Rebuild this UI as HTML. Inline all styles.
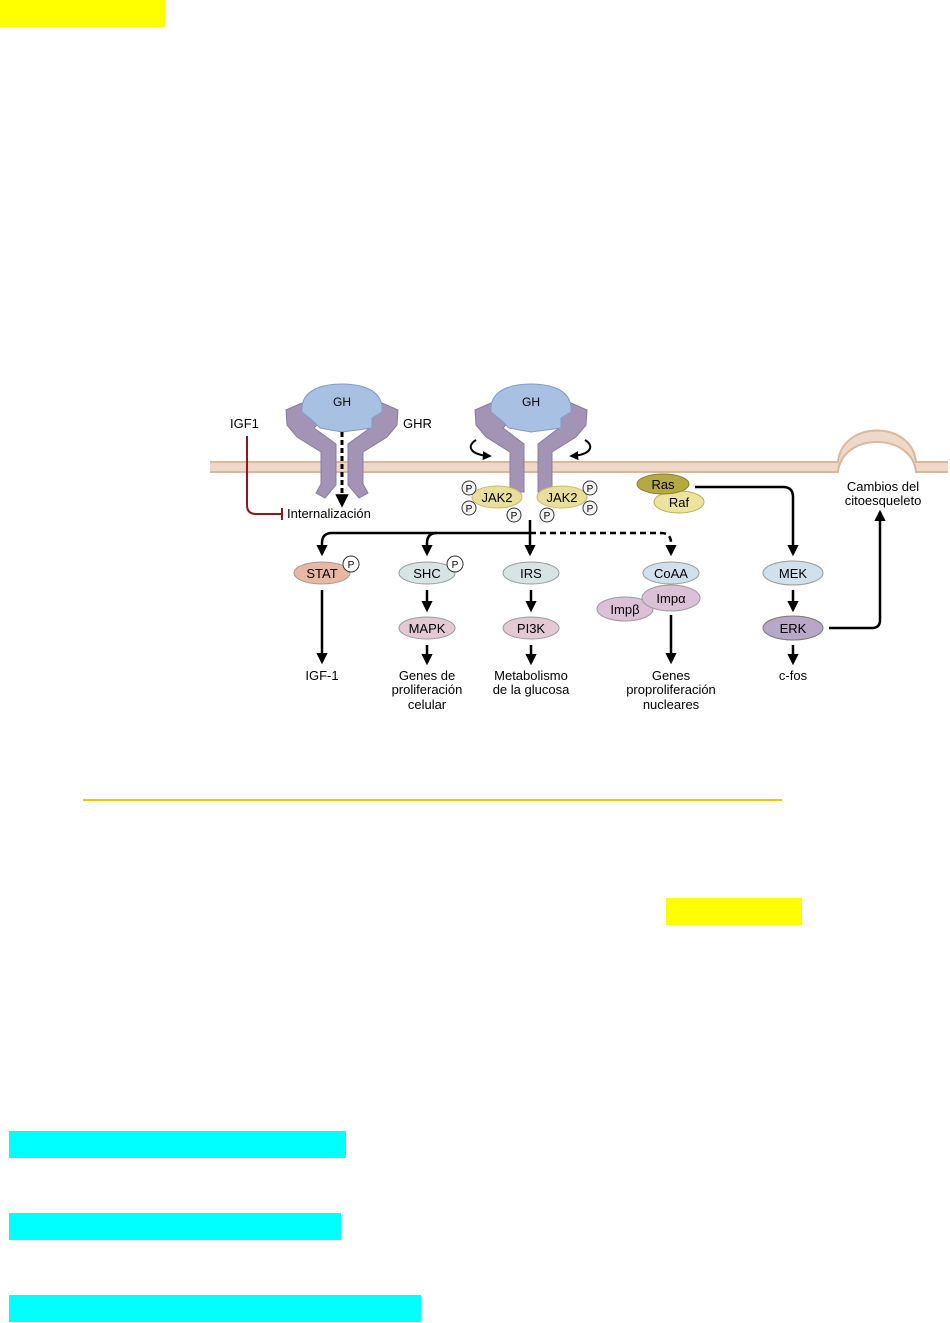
<!DOCTYPE html>
<html><head><meta charset="utf-8"><style>
html,body{margin:0;padding:0;background:#fff;}
body{width:950px;height:1323px;position:relative;overflow:hidden;font-family:"Liberation Sans",sans-serif;}
.b{position:absolute;}
svg text{font-family:"Liberation Sans",sans-serif;}
</style></head><body>
<div class="b" style="left:0;top:0;width:165px;height:27px;background:#ffff00"></div>
<div class="b" style="left:83px;top:799px;width:699px;height:2px;background:#f5c400"></div>
<div class="b" style="left:666px;top:898px;width:136px;height:27px;background:#ffff00"></div>
<div class="b" style="left:9px;top:1131px;width:337px;height:27px;background:#00ffff"></div>
<div class="b" style="left:9px;top:1213px;width:332px;height:27px;background:#00ffff"></div>
<div class="b" style="left:9px;top:1295px;width:412px;height:27px;background:#00ffff"></div>
<svg class="b" style="left:0;top:0" width="950" height="1323" viewBox="0 0 950 1323">
<defs>
<marker id="ah" viewBox="0 0 10 10" refX="8" refY="5" markerWidth="4.5" markerHeight="4.5" orient="auto"><path d="M0,0L10,5L0,10z" fill="#000"/></marker>
<g id="recL"><path d="M286,410 L302,403 L320,422 L314,428 L336,444 L336,485 L325,498 L316,493 L321,484 L321,452 L297,437 L287,425Z" fill="#a394b6" stroke="#8a7aa0" stroke-width="1"/></g>
<g id="recR"><path d="M286,410 L302,403 L320,422 L314,428 L335,444 L335,492 L321,492 L321,452 L297,437 L287,425Z" fill="#a394b6" stroke="#8a7aa0" stroke-width="1"/></g>
</defs>
<path d="M210,462 L838,462 C842,420 912,420 916,462 L948,462 L948,472 L916,472 C912,432 842,432 838,472 L210,472Z" fill="#eed9c8"/>
<path d="M210,462 L838,462 C842,420 912,420 916,462 L948,462" fill="none" stroke="#d9b8a0" stroke-width="2"/>
<path d="M210,472 L838,472 C842,432 912,432 916,472 L948,472" fill="none" stroke="#d9b8a0" stroke-width="2"/>
<use href="#recL"/><use href="#recL" transform="translate(684,0) scale(-1,1)"/>
<path d="M302,412 C300,390 322,384 342,384 C362,384 384,390 382,412 L372,418 L372,428 L342,432 L320,428 L312,420Z" fill="#a8c0e2" stroke="#7f9cc8"/>
<text x="342" y="406" font-size="12" text-anchor="middle">GH</text>
<line x1="342" y1="432" x2="342" y2="505" stroke="#000" stroke-width="3" stroke-dasharray="5,3" marker-end="url(#ah)"/>
<g transform="translate(189,0)"><use href="#recR"/><use href="#recR" transform="translate(684,0) scale(-1,1)"/>
<path d="M302,412 C300,390 322,384 342,384 C362,384 384,390 382,412 L372,418 L372,428 L342,432 L320,428 L312,420Z" fill="#a8c0e2" stroke="#7f9cc8"/>
<text x="342" y="406" font-size="12" text-anchor="middle">GH</text></g>
<path d="M476,440 C466,446 470,455 490,456" fill="none" stroke="#000" stroke-width="2" marker-end="url(#ah)"/>
<path d="M585,440 C595,446 591,455 571,456" fill="none" stroke="#000" stroke-width="2" marker-end="url(#ah)"/>
<text x="230" y="428" font-size="13">IGF1</text>
<text x="403" y="428" font-size="13">GHR</text>
<path d="M247,436 L247,505 Q247,514 256,514 L281,514" fill="none" stroke="#8b1a1a" stroke-width="2"/>
<line x1="282" y1="508" x2="282" y2="520" stroke="#8b1a1a" stroke-width="2"/>
<text x="287" y="518" font-size="13">Internalización</text>
<ellipse cx="497" cy="497" rx="25" ry="11" fill="#e8df9a" stroke="#c8bd6a"/>
<ellipse cx="562" cy="497" rx="25" ry="11" fill="#e8df9a" stroke="#c8bd6a"/>
<text x="497" y="502" font-size="13" text-anchor="middle">JAK2</text>
<text x="562" y="502" font-size="13" text-anchor="middle">JAK2</text>
<g font-size="10" text-anchor="middle">
<circle cx="469" cy="488" r="7" fill="#f4f4f4" stroke="#333"/><text x="469" y="492">P</text>
<circle cx="469" cy="508" r="7" fill="#f4f4f4" stroke="#333"/><text x="469" y="512">P</text>
<circle cx="514" cy="515" r="7" fill="#f4f4f4" stroke="#333"/><text x="514" y="519">P</text>
<circle cx="590" cy="488" r="7" fill="#f4f4f4" stroke="#333"/><text x="590" y="492">P</text>
<circle cx="590" cy="508" r="7" fill="#f4f4f4" stroke="#333"/><text x="590" y="512">P</text>
<circle cx="547" cy="515" r="7" fill="#f4f4f4" stroke="#333"/><text x="547" y="519">P</text>
</g>
<g fill="none" stroke="#000" stroke-width="2.5">
<path d="M530,533 L332,533 Q322,533 322,543 L322,554" marker-end="url(#ah)"/>
<path d="M437,533 Q427,533 427,543 L427,554" marker-end="url(#ah)"/>
<path d="M530,520 L530,554" marker-end="url(#ah)"/>
<path d="M530,533 L661,533 Q671,533 671,543 L671,554" stroke-dasharray="6,4" marker-end="url(#ah)"/>
<path d="M695,487 L783,487 Q793,487 793,497 L793,554" marker-end="url(#ah)"/>
<path d="M322,590 L322,662" marker-end="url(#ah)"/>
<path d="M427,590 L427,610" marker-end="url(#ah)"/>
<path d="M531,590 L531,610" marker-end="url(#ah)"/>
<path d="M427,645 L427,663" marker-end="url(#ah)"/>
<path d="M531,645 L531,663" marker-end="url(#ah)"/>
<path d="M671,615 L671,662" marker-end="url(#ah)"/>
<path d="M793,590 L793,610" marker-end="url(#ah)"/>
<path d="M793,645 L793,663" marker-end="url(#ah)"/>
<path d="M829,628 L872,628 Q880,628 880,620 L880,512" marker-end="url(#ah)"/>
</g>
<ellipse cx="679" cy="502" rx="25" ry="11" fill="#ece49c" stroke="#b8ad55"/>
<ellipse cx="663" cy="484" rx="26" ry="10" fill="#b6a842" stroke="#8a7e2a"/>
<text x="663" y="489" font-size="13" text-anchor="middle">Ras</text>
<text x="679" y="507" font-size="13" text-anchor="middle">Raf</text>
<g font-size="13" text-anchor="middle">
<ellipse cx="322" cy="573" rx="28" ry="11" fill="#e8b8a4" stroke="#999"/><text x="322" y="578">STAT</text>
<ellipse cx="427" cy="573" rx="28" ry="11" fill="#d6e4e4" stroke="#999"/><text x="427" y="578">SHC</text>
<ellipse cx="531" cy="573" rx="28" ry="11" fill="#d6e4e4" stroke="#999"/><text x="531" y="578">IRS</text>
<ellipse cx="671" cy="573" rx="28" ry="11" fill="#d0e0ec" stroke="#999"/><text x="671" y="578">CoAA</text>
<ellipse cx="793" cy="573" rx="30" ry="12" fill="#d0e0ec" stroke="#999"/><text x="793" y="578">MEK</text>
<ellipse cx="427" cy="628" rx="28" ry="11" fill="#e4c8d4" stroke="#999"/><text x="427" y="633">MAPK</text>
<ellipse cx="531" cy="628" rx="28" ry="11" fill="#e4c8d4" stroke="#999"/><text x="531" y="633">PI3K</text>
<ellipse cx="793" cy="628" rx="30" ry="12" fill="#b8a8c8" stroke="#777"/><text x="793" y="633">ERK</text>
<ellipse cx="625" cy="609" rx="28" ry="12" fill="#dcc0d8" stroke="#999"/><text x="625" y="614">Impβ</text>
<ellipse cx="671" cy="598" rx="29" ry="13" fill="#dcc0d8" stroke="#999"/><text x="671" y="603">Impα</text>
</g>
<g font-size="10" text-anchor="middle">
<circle cx="351" cy="564" r="8" fill="#fff" stroke="#333"/><text x="351" y="568">P</text>
<circle cx="455" cy="564" r="8" fill="#fff" stroke="#333"/><text x="455" y="568">P</text>
</g>
<g font-size="13" text-anchor="middle">
<text x="322" y="680">IGF-1</text>
<text x="427" y="680">Genes de</text><text x="427" y="694">proliferación</text><text x="427" y="709">celular</text>
<text x="531" y="680">Metabolismo</text><text x="531" y="694">de la glucosa</text>
<text x="671" y="680">Genes</text><text x="671" y="694">proproliferación</text><text x="671" y="709">nucleares</text>
<text x="793" y="680">c-fos</text>
<text x="883" y="491">Cambios del</text><text x="883" y="505">citoesqueleto</text>
</g>
</svg>
</body></html>
